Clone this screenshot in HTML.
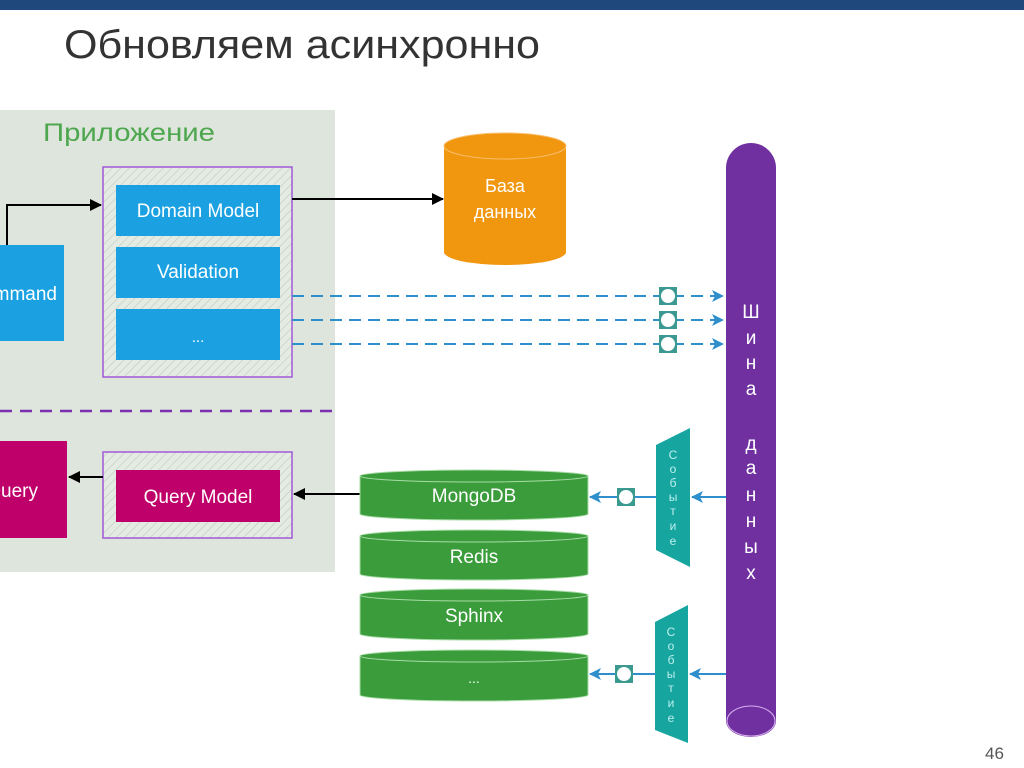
<!DOCTYPE html>
<html><head><meta charset="utf-8"><style>
html,body{margin:0;padding:0;background:#fff;width:1024px;height:768px;overflow:hidden}
svg{display:block}
text{font-family:"Liberation Sans","DejaVu Sans",sans-serif}
</style></head><body>
<svg width="1024" height="768" viewBox="0 0 1024 768" xmlns="http://www.w3.org/2000/svg">
<defs>
<pattern id="h" width="6" height="6" patternUnits="userSpaceOnUse" patternTransform="rotate(45)">
<rect width="6" height="6" fill="#e4ebe3"/><line x1="0" y1="0" x2="0" y2="6" stroke="#b9c2b9" stroke-width="1"/>
</pattern>
<marker id="ab" markerWidth="12" markerHeight="12" refX="11" refY="6" orient="auto" markerUnits="userSpaceOnUse"><path d="M0,0 L12,6 L0,12 z" fill="#000"/></marker>
<marker id="abl" markerWidth="12" markerHeight="12" refX="11" refY="6" orient="auto" markerUnits="userSpaceOnUse"><path d="M0,0 L12,6 L0,12 L3,6 z" fill="#2e8fcc"/></marker>
</defs>
<rect x="0" y="0" width="1024" height="10" fill="#1f497d"/>
<text x="64" y="58" font-size="40" fill="#333" textLength="476" lengthAdjust="spacingAndGlyphs">Обновляем асинхронно</text>

<rect x="0" y="110" width="335" height="462" fill="#dde5dc"/>
<text x="43" y="141" font-size="25" fill="#4ea64e" textLength="172" lengthAdjust="spacingAndGlyphs">Приложение</text>

<rect x="103" y="167" width="189" height="210" fill="url(#h)" stroke="#a05ad6" stroke-width="1.5"/>
<rect x="116" y="185" width="164" height="51" fill="#1ba1e2"/>
<rect x="116" y="247" width="164" height="51" fill="#1ba1e2"/>
<rect x="116" y="309" width="164" height="51" fill="#1ba1e2"/>
<text x="198" y="217" font-size="19" fill="#fff" text-anchor="middle">Domain Model</text>
<text x="198" y="278" font-size="19" fill="#fff" text-anchor="middle">Validation</text>
<text x="198" y="342" font-size="15" fill="#fff" text-anchor="middle">...</text>

<rect x="0" y="245" width="64" height="96" fill="#1ba1e2"/>
<text x="57" y="300" font-size="19" fill="#fff" text-anchor="end">Command</text>
<polyline points="7,245 7,205 101,205" fill="none" stroke="#000" stroke-width="2" marker-end="url(#ab)"/>

<line x1="0" y1="411" x2="335" y2="411" stroke="#7a30b0" stroke-width="2.5" stroke-dasharray="12,8"/>

<rect x="0" y="441" width="67" height="97" fill="#c0006a"/>
<text x="38" y="497" font-size="19" fill="#fff" text-anchor="end">Query</text>
<rect x="103" y="452" width="189" height="86" fill="url(#h)" stroke="#a05ad6" stroke-width="1.5"/>
<rect x="116" y="470" width="164" height="52" fill="#c0006a"/>
<text x="198" y="503" font-size="19" fill="#fff" text-anchor="middle">Query Model</text>
<line x1="103" y1="477" x2="69" y2="477" stroke="#000" stroke-width="2" marker-end="url(#ab)"/>
<line x1="360" y1="494" x2="294" y2="494" stroke="#000" stroke-width="2" marker-end="url(#ab)"/>

<line x1="292" y1="199" x2="443" y2="199" stroke="#000" stroke-width="2" marker-end="url(#ab)"/>
<path d="M444,146 L444,252 A61,13 0 0 0 566,252 L566,146 A61,13 0 0 0 444,146 z" fill="#f0960f"/>
<ellipse cx="505" cy="146" rx="61" ry="13" fill="#f0960f" stroke="#f8c070" stroke-width="1"/>
<text x="505" y="192" font-size="18" fill="#fff" text-anchor="middle">База</text>
<text x="505" y="218" font-size="18" fill="#fff" text-anchor="middle">данных</text>

<g stroke="#2e8fcc" stroke-width="2" stroke-dasharray="12,7" fill="none">
<line x1="292" y1="296" x2="723" y2="296" marker-end="url(#abl)"/>
<line x1="292" y1="320" x2="723" y2="320" marker-end="url(#abl)"/>
<line x1="292" y1="344" x2="723" y2="344" marker-end="url(#abl)"/>
</g>
<g fill="#3a9a8f">
<rect x="659" y="287" width="18" height="18"/><rect x="659" y="311" width="18" height="18"/><rect x="659" y="335" width="18" height="18"/>
</g>
<g fill="#fff"><circle cx="668" cy="296" r="7"/><circle cx="668" cy="320" r="7"/><circle cx="668" cy="344" r="7"/></g>

<path d="M726,168 A25,25 0 0 1 776,168 L776,721 A25,16 0 0 1 726,721 z" fill="#7030a0"/>
<ellipse cx="751" cy="721" rx="24" ry="15" fill="#7030a0" stroke="#d8b0f0" stroke-width="1"/>
<g font-size="19" fill="#fff" text-anchor="middle">
<text x="751" y="318">Ш</text><text x="751" y="344">и</text><text x="751" y="369">н</text><text x="751" y="395">а</text>
<text x="751" y="450">д</text><text x="751" y="474">а</text><text x="751" y="501">н</text><text x="751" y="527">н</text><text x="751" y="553">ы</text><text x="751" y="579">х</text>
</g>

<g fill="#3a9c3a" stroke="#a8dca8" stroke-width="1">
<path d="M360,476 L360,514 A114,6 0 0 0 588,514 L588,476 z"/><ellipse cx="474" cy="476" rx="114" ry="6"/>
<path d="M360,536 L360,574 A114,6 0 0 0 588,574 L588,536 z"/><ellipse cx="474" cy="536" rx="114" ry="6"/>
<path d="M360,595 L360,634 A114,6 0 0 0 588,634 L588,595 z"/><ellipse cx="474" cy="595" rx="114" ry="6"/>
<path d="M360,656 L360,695 A114,6 0 0 0 588,695 L588,656 z"/><ellipse cx="474" cy="656" rx="114" ry="6"/>
</g>
<g font-size="19" fill="#fff" text-anchor="middle">
<text x="474" y="502">MongoDB</text><text x="474" y="563">Redis</text><text x="474" y="622">Sphinx</text><text x="474" y="683" font-size="14">...</text>
</g>

<path d="M656,445 L690,428 L690,567 L656,550 z" fill="#17a5a0"/>
<path d="M655,622 L688,605 L688,743 L655,730 z" fill="#17a5a0"/>
<g font-size="12" fill="#bdf0ee" text-anchor="middle">
<text x="673" y="459">С</text><text x="673" y="473">о</text><text x="673" y="487">б</text><text x="673" y="501">ы</text><text x="673" y="515">т</text><text x="673" y="530">и</text><text x="673" y="545">е</text>
<text x="671" y="636">С</text><text x="671" y="650">о</text><text x="671" y="664">б</text><text x="671" y="678">ы</text><text x="671" y="692">т</text><text x="671" y="707">и</text><text x="671" y="722">е</text>
</g>
<g stroke="#2e8fcc" stroke-width="2" fill="none">
<line x1="726" y1="497" x2="692" y2="497" marker-end="url(#abl)"/>
<line x1="656" y1="497" x2="590" y2="497" marker-end="url(#abl)"/>
<line x1="726" y1="674" x2="690" y2="674" marker-end="url(#abl)"/>
<line x1="655" y1="674" x2="590" y2="674" marker-end="url(#abl)"/>
</g>
<rect x="617" y="488" width="18" height="18" fill="#3a9a8f"/><circle cx="626" cy="497" r="7" fill="#fff"/>
<rect x="615" y="665" width="18" height="18" fill="#3a9a8f"/><circle cx="624" cy="674" r="7" fill="#fff"/>

<text x="985" y="759" font-size="17" fill="#555">46</text>
</svg>
</body></html>
